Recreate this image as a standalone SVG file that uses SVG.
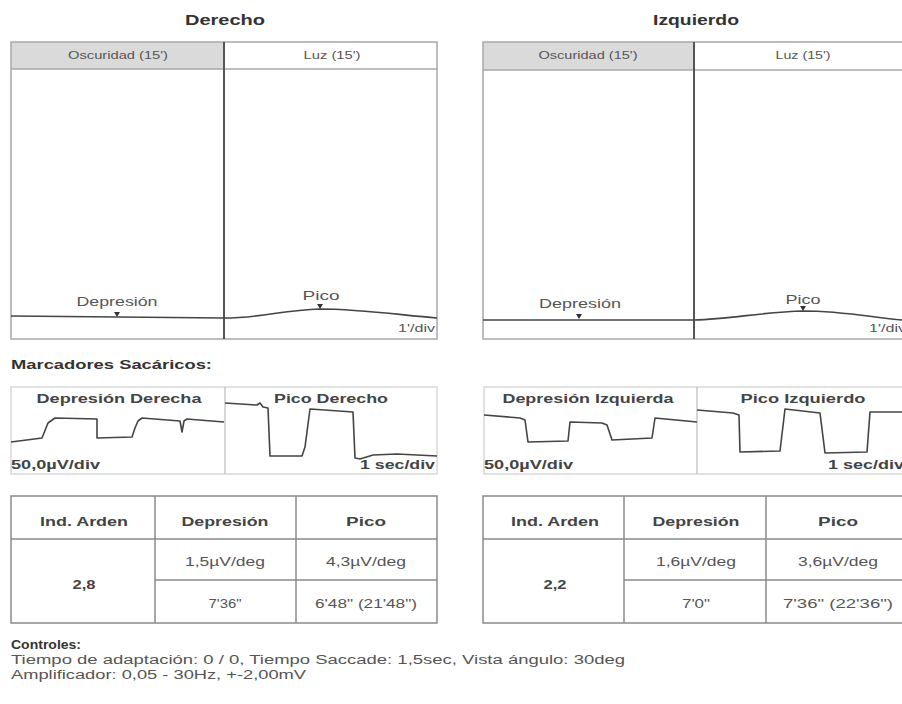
<svg xmlns="http://www.w3.org/2000/svg" width="902" height="704" viewBox="0 0 902 704">
<style>
text{font-family:"Liberation Sans",Arial,sans-serif;fill:#4a4a4a;}
.t{font-size:15px;font-weight:bold;fill:#333;}
.h{font-size:10.5px;fill:#555;}
.l{font-size:12.5px;fill:#555;}
.b{font-size:12.5px;font-weight:bold;fill:#444;}
.s{font-size:12.5px;font-weight:bold;fill:#333;}
.v{font-size:11px;fill:#555;}
.box{fill:none;stroke:#a8a8a8;stroke-width:1.5;}
.div{stroke:#555;stroke-width:2;}
.hdr{fill:#dadada;}
.tr{fill:none;stroke:#444;stroke-width:1.6;stroke-linejoin:round;}
.tb{fill:none;stroke:#8a8a8a;stroke-width:1.5;}
.mk{fill:#333;}
</style>
<rect width="902" height="704" fill="#fff"/>

<g id="panel-derecho">
<text class="t" x="225" y="25" text-anchor="middle" textLength="80" lengthAdjust="spacingAndGlyphs">Derecho</text>
<rect class="hdr" x="11" y="42" width="213" height="27"/>
<rect class="box" x="11" y="42" width="426" height="297"/>
<line class="box" x1="11" y1="69" x2="437" y2="69"/>
<line class="div" x1="224" y1="42" x2="224" y2="339"/>
<text class="h" x="118" y="59" text-anchor="middle" textLength="100" lengthAdjust="spacingAndGlyphs">Oscuridad (15')</text>
<text class="h" x="332" y="59" text-anchor="middle" textLength="57" lengthAdjust="spacingAndGlyphs">Luz (15')</text>
<path class="tr" d="M11,316 L224,318"/>
<path class="tr" d="M224,318 C262,318 282,310 320,309 C360,309 400,315 437,318"/>
<text class="l" x="117" y="306" text-anchor="middle" textLength="81" lengthAdjust="spacingAndGlyphs">Depresión</text>
<polygon class="mk" points="114,312 120,312 117,317"/>
<text class="l" x="321" y="300" text-anchor="middle" textLength="37" lengthAdjust="spacingAndGlyphs">Pico</text>
<polygon class="mk" points="317,304 323,304 320,309"/>
<text class="v" x="398" y="332" textLength="37" lengthAdjust="spacingAndGlyphs">1'/div</text>
</g>

<g id="panel-izquierdo">
<text class="t" x="696" y="25" text-anchor="middle" textLength="86" lengthAdjust="spacingAndGlyphs">Izquierdo</text>
<rect class="hdr" x="483" y="42" width="211" height="28"/>
<rect class="box" x="483" y="42" width="430" height="297"/>
<line class="box" x1="483" y1="70" x2="913" y2="70"/>
<line class="div" x1="694" y1="42" x2="694" y2="339"/>
<text class="h" x="588" y="59" text-anchor="middle" textLength="99" lengthAdjust="spacingAndGlyphs">Oscuridad (15')</text>
<text class="h" x="803" y="59" text-anchor="middle" textLength="55" lengthAdjust="spacingAndGlyphs">Luz (15')</text>
<path class="tr" d="M483,320 L694,320"/>
<path class="tr" d="M694,320 C732,319 762,312 803,311 C842,311 870,317 902,320"/>
<text class="l" x="580" y="308" text-anchor="middle" textLength="82" lengthAdjust="spacingAndGlyphs">Depresión</text>
<polygon class="mk" points="576,314 582,314 579,319"/>
<text class="l" x="803" y="304" text-anchor="middle" textLength="35" lengthAdjust="spacingAndGlyphs">Pico</text>
<polygon class="mk" points="800,306 806,306 803,311"/>
<text class="v" x="869" y="332" textLength="37" lengthAdjust="spacingAndGlyphs">1'/div</text>
</g>

<text class="s" x="11" y="369" textLength="201" lengthAdjust="spacingAndGlyphs">Marcadores Sacáricos:</text>

<g id="sacadicos-derecho">
<rect fill="none" stroke="#d8d8d8" stroke-width="1.5" x="11" y="387" width="426" height="87"/>
<line stroke="#bbb" stroke-width="1.2" x1="225" y1="387" x2="225" y2="474"/>
<text class="b" x="119" y="403" text-anchor="middle" textLength="165" lengthAdjust="spacingAndGlyphs">Depresión Derecha</text>
<text class="b" x="331" y="403" text-anchor="middle" textLength="114" lengthAdjust="spacingAndGlyphs">Pico Derecho</text>
<path class="tr" d="M11,442 L42,438 L46,428 L48,423 L55,418 L97,419 L97,438 L132,437 L135,428 L138,421 L142,418 L180,421 L182,432 L184,421 L187,419 L224,422"/>
<path class="tr" d="M225,403 L257,405 L260,403 L263,407 L268,408 L270,456 L302,456 L305,447 L310,409 L353,412 L355,458 L360,459 L373,455 L397,454 L437,456"/>
<text class="b" x="11" y="469" textLength="89" lengthAdjust="spacingAndGlyphs">50,0µV/div</text>
<text class="b" x="360" y="469" textLength="75" lengthAdjust="spacingAndGlyphs">1 sec/div</text>
</g>

<g id="sacadicos-izquierdo">
<rect fill="none" stroke="#d8d8d8" stroke-width="1.5" x="484" y="387" width="430" height="87"/>
<line stroke="#bbb" stroke-width="1.2" x1="697" y1="387" x2="697" y2="474"/>
<text class="b" x="588" y="403" text-anchor="middle" textLength="171" lengthAdjust="spacingAndGlyphs">Depresión Izquierda</text>
<text class="b" x="803" y="403" text-anchor="middle" textLength="125" lengthAdjust="spacingAndGlyphs">Pico Izquierdo</text>
<path class="tr" d="M484,415 L520,418 L525,420 L528,442 L568,441 L570,422 L602,423 L607,425 L612,440 L652,438 L655,418 L697,422"/>
<path class="tr" d="M697,410 L733,413 L739,415 L740,452 L780,451 L785,409 L820,413 L825,453 L867,452 L870,412 L902,412"/>
<text class="b" x="484" y="469" textLength="89" lengthAdjust="spacingAndGlyphs">50,0µV/div</text>
<text class="b" x="828" y="469" textLength="76" lengthAdjust="spacingAndGlyphs">1 sec/div</text>
</g>

<g id="tabla-derecho">
<rect class="tb" x="11" y="496" width="426" height="127"/>
<line class="tb" x1="11" y1="539" x2="437" y2="539"/>
<line class="tb" x1="155" y1="496" x2="155" y2="623"/>
<line class="tb" x1="296" y1="496" x2="296" y2="623"/>
<line class="tb" x1="155" y1="580" x2="437" y2="580"/>
<text class="b" x="84" y="526" text-anchor="middle" textLength="88" lengthAdjust="spacingAndGlyphs">Ind. Arden</text>
<text class="b" x="225" y="526" text-anchor="middle" textLength="87" lengthAdjust="spacingAndGlyphs">Depresión</text>
<text class="b" x="366" y="526" text-anchor="middle" textLength="40" lengthAdjust="spacingAndGlyphs">Pico</text>
<text class="b" x="84" y="589" text-anchor="middle" textLength="23" lengthAdjust="spacingAndGlyphs">2,8</text>
<text class="l" x="225" y="566" text-anchor="middle" textLength="80" lengthAdjust="spacingAndGlyphs">1,5µV/deg</text>
<text class="l" x="366" y="566" text-anchor="middle" textLength="80" lengthAdjust="spacingAndGlyphs">4,3µV/deg</text>
<text class="l" x="225" y="608" text-anchor="middle" textLength="33" lengthAdjust="spacingAndGlyphs">7'36"</text>
<text class="l" x="366" y="608" text-anchor="middle" textLength="102" lengthAdjust="spacingAndGlyphs">6'48" (21'48")</text>
</g>

<g id="tabla-izquierdo">
<rect class="tb" x="483" y="496" width="424" height="127"/>
<line class="tb" x1="483" y1="539" x2="907" y2="539"/>
<line class="tb" x1="624" y1="496" x2="624" y2="623"/>
<line class="tb" x1="766" y1="496" x2="766" y2="623"/>
<line class="tb" x1="624" y1="580" x2="907" y2="580"/>
<text class="b" x="555" y="526" text-anchor="middle" textLength="88" lengthAdjust="spacingAndGlyphs">Ind. Arden</text>
<text class="b" x="696" y="526" text-anchor="middle" textLength="87" lengthAdjust="spacingAndGlyphs">Depresión</text>
<text class="b" x="838" y="526" text-anchor="middle" textLength="40" lengthAdjust="spacingAndGlyphs">Pico</text>
<text class="b" x="555" y="589" text-anchor="middle" textLength="23" lengthAdjust="spacingAndGlyphs">2,2</text>
<text class="l" x="696" y="566" text-anchor="middle" textLength="80" lengthAdjust="spacingAndGlyphs">1,6µV/deg</text>
<text class="l" x="838" y="566" text-anchor="middle" textLength="80" lengthAdjust="spacingAndGlyphs">3,6µV/deg</text>
<text class="l" x="696" y="608" text-anchor="middle" textLength="28" lengthAdjust="spacingAndGlyphs">7'0"</text>
<text class="l" x="838" y="608" text-anchor="middle" textLength="110" lengthAdjust="spacingAndGlyphs">7'36" (22'36")</text>
</g>

<g id="controles">
<text class="s" x="11" y="649" textLength="70" lengthAdjust="spacingAndGlyphs">Controles:</text>
<text class="l" x="11" y="664" textLength="614" lengthAdjust="spacingAndGlyphs">Tiempo de adaptación: 0 / 0,  Tiempo Saccade: 1,5sec, Vista ángulo: 30deg</text>
<text class="l" x="11" y="679" textLength="295" lengthAdjust="spacingAndGlyphs">Amplificador: 0,05 - 30Hz, +-2,00mV</text>
</g>
</svg>
